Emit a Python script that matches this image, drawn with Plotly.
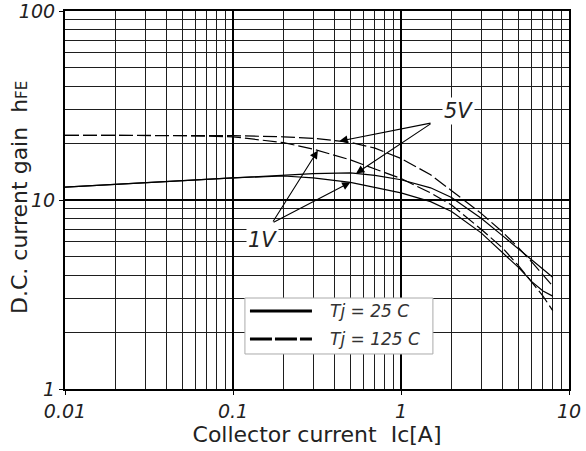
import numpy as np
import plotly.graph_objects as go

# ---- data ----
ic = [0.01, 0.02, 0.05, 0.1, 0.2, 0.3, 0.5, 0.7, 1, 1.5, 2, 3, 4, 5, 6, 7, 8]
hfe_5v_125 = [22.0, 22.0, 22.0, 21.9, 21.6, 21.2, 20.2, 18.8, 16.6, 13.6, 11.2, 8.5, 6.8, 5.6, 4.7, 4.0, 3.5]
hfe_1v_125 = [22.0, 22.0, 21.9, 21.6, 20.1, 18.6, 16.3, 14.6, 13.0, 10.9, 9.4, 7.0, 5.6, 4.5, 3.7, 3.1, 2.6]
hfe_5v_25 = [11.7, 12.1, 12.7, 13.1, 13.5, 13.8, 13.9, 13.5, 12.8, 11.6, 10.3, 8.0, 6.5, 5.5, 4.8, 4.3, 3.9]
hfe_1v_25 = [11.7, 12.1, 12.7, 13.1, 13.4, 13.1, 12.4, 11.6, 10.9, 9.8, 8.7, 6.7, 5.3, 4.4, 3.7, 3.3, 3.1]

x_tickvals = [0.01, 0.1, 1, 10]
x_ticktext = ["0.01", "0.1", "1", "10"]
y_tickvals = [1, 10, 100]
y_ticktext = ["1", "10", "100"]
x_minor = [m * d for d in (0.01, 0.1, 1) for m in range(2, 10)]
y_minor = [m * d for d in (1, 10) for m in range(2, 10)]

# arrow targets: (tail Ic, tail hFE, [(curve, Ic at tip), ...])
arrows_5v = (1.53, 25.6, [(hfe_5v_125, 0.43), (hfe_5v_25, 0.54)])
arrows_1v = (0.171, 7.55, [(hfe_1v_125, 0.32), (hfe_1v_25, 0.50)])

FONT = "DejaVu Sans, Liberation Sans, Arial, sans-serif"
TXT = "#222"

fig = go.Figure()
line_w = 1.2
dash_125 = "14px,4px"
fig.add_trace(go.Scatter(x=ic, y=hfe_5v_125, mode="lines", line=dict(color="black", width=line_w, dash=dash_125), showlegend=False))
fig.add_trace(go.Scatter(x=ic, y=hfe_1v_125, mode="lines", line=dict(color="black", width=line_w, dash=dash_125), showlegend=False))
fig.add_trace(go.Scatter(x=ic, y=hfe_5v_25, mode="lines", line=dict(color="black", width=line_w), showlegend=False))
fig.add_trace(go.Scatter(x=ic, y=hfe_1v_25, mode="lines", line=dict(color="black", width=line_w), showlegend=False))


def curve_at(curve, x):
    return float(10 ** np.interp(np.log10(x), np.log10(ic), np.log10(curve)))


annotations = []
for tail_x, tail_y, tips in (arrows_5v, arrows_1v):
    for curve, tx in tips:
        ty = curve_at(curve, tx)
        annotations.append(dict(
            x=np.log10(tx), y=np.log10(ty), ax=np.log10(tail_x), ay=np.log10(tail_y),
            xref="x", yref="y", axref="x", ayref="y", text="", showarrow=True,
            arrowhead=2, arrowsize=1.5, arrowwidth=1.1, arrowcolor="black", standoff=0,
        ))

annotations.append(dict(x=np.log10(2.2), y=np.log10(29.6), xref="x", yref="y", text="<i>5V</i>",
                        showarrow=False, font=dict(family=FONT, size=21, color=TXT), bgcolor="white"))
annotations.append(dict(x=np.log10(0.149), y=np.log10(6.14), xref="x", yref="y", text="<i>1V</i>",
                        showarrow=False, font=dict(family=FONT, size=21, color=TXT), bgcolor="white"))

# y-axis title (placed as rotated text)
annotations.append(dict(x=-0.0893, y=0.508, xref="paper", yref="paper", xanchor="center", yanchor="middle",
                        textangle=-90, showarrow=False,
                        text="D.C. current gain  h<span style='font-size:15px'>FE</span>",
                        font=dict(family=FONT, size=22, color=TXT)))

# manual legend
shapes = [
    dict(type="rect", xref="paper", yref="paper", x0=0.357, x1=0.730, y0=0.0926, y1=0.2407,
         fillcolor="white", line=dict(color="#aaaaaa", width=1), layer="above"),
    dict(type="line", xref="paper", yref="paper", x0=0.367, x1=0.490, y0=0.2063, y1=0.2063,
         line=dict(color="black", width=3), layer="above"),
    dict(type="line", xref="paper", yref="paper", x0=0.367, x1=0.490, y0=0.1323, y1=0.1323,
         line=dict(color="black", width=3, dash="22px,3px"), layer="above"),
]
annotations.append(dict(x=0.522, y=0.2063, xref="paper", yref="paper", xanchor="left", yanchor="middle",
                        text="<i>Tj = 25 C</i>", showarrow=False, font=dict(family=FONT, size=17, color="#333")))
annotations.append(dict(x=0.522, y=0.1323, xref="paper", yref="paper", xanchor="left", yanchor="middle",
                        text="<i>Tj = 125 C</i>", showarrow=False, font=dict(family=FONT, size=17, color="#333")))

fig.update_layout(
    width=586, height=451,
    margin=dict(l=65, r=17, t=11, b=62, autoexpand=False),
    paper_bgcolor="white", plot_bgcolor="white",
    font=dict(family=FONT, color=TXT),
    showlegend=False,
    shapes=shapes,
    annotations=annotations,
)
fig.update_xaxes(
    type="log", range=[-2, 1], automargin=False,
    tickmode="array", tickvals=x_tickvals, ticktext=[f"<i>{t}</i>" for t in x_ticktext],
    tickfont=dict(family=FONT, size=19, color=TXT), ticklabeloverflow="allow",
    showgrid=True, gridcolor="black", gridwidth=1.6,
    minor=dict(tickmode="array", tickvals=x_minor, showgrid=True, gridcolor="#1e1e1e", gridwidth=1, ticks=""),
    showline=True, linecolor="black", linewidth=2.2, mirror=True,
    ticks="outside", ticklen=4, tickcolor="black",
    title=dict(text="Collector current  Ic[A]", font=dict(family=FONT, size=22, color=TXT), standoff=4),
    zeroline=False,
)
fig.update_yaxes(
    type="log", range=[0, 2], automargin=False,
    tickmode="array", tickvals=y_tickvals, ticktext=[f"<i>{t}</i>" for t in y_ticktext],
    tickfont=dict(family=FONT, size=19, color=TXT), ticklabeloverflow="allow",
    showgrid=True, gridcolor="black", gridwidth=1.6,
    minor=dict(tickmode="array", tickvals=y_minor, showgrid=True, gridcolor="#1e1e1e", gridwidth=1, ticks=""),
    showline=True, linecolor="black", linewidth=2.2, mirror=True,
    ticks="outside", ticklen=4, tickcolor="black",
    zeroline=False,
)

fig.write_html("out.html", config={"displayModeBar": False},
               post_script="document.body.style.margin='0';")
